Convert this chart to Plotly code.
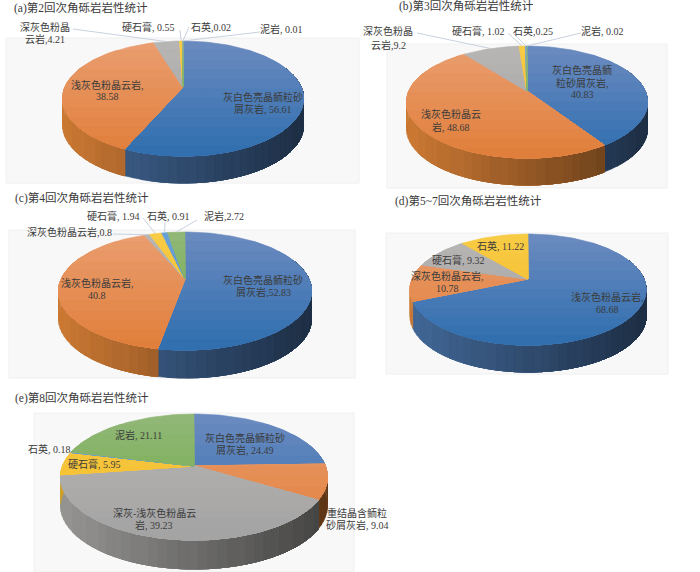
import math
import plotly.graph_objects as go

# ---------- data ----------
values_a = [56.61, 38.58, 4.21, 0.55, 0.02, 0.01]
values_b = [40.83, 48.68, 9.2, 1.02, 0.25, 0.02]
values_c = [52.83, 40.8, 0.8, 1.94, 0.91, 2.72]
values_d = [68.68, 10.78, 9.32, 11.22]
values_e = [24.49, 9.04, 39.23, 5.95, 0.18, 21.11]

names_a = ["灰白色亮晶鲕粒砂屑灰岩", "浅灰色粉晶云岩", "深灰色粉晶云岩", "硬石膏", "石英", "泥岩"]
names_b = names_a
names_c = names_a
names_d = ["浅灰色粉晶云岩", "深灰色粉晶云岩", "硬石膏", "石英"]
names_e = ["灰白色亮晶鲕粒砂屑灰岩", "重结晶含鲕粒砂屑灰岩", "深灰-浅灰色粉晶云岩", "硬石膏", "石英", "泥岩"]

titles = ["(a)第2回次角砾岩岩性统计", "(b)第3回次角砾岩岩性统计", "(c)第4回次角砾岩岩性统计",
          "(d)第5~7回次角砾岩岩性统计", "(e)第8回次角砾岩岩性统计"]

# ---------- styles ----------
TOP = {  # (upper colour, lower colour) of the slice top faces
    "blue": ((108, 139, 192), (46, 110, 174)),
    "orange": ((234, 158, 112), (224, 126, 58)),
    "gray": ((184, 182, 180), (164, 163, 163)),
    "yellow": ((248, 204, 70), (244, 184, 38)),
    "sky": ((104, 160, 214), (88, 150, 210)),
    "green": ((146, 184, 120), (108, 170, 68)),
}
SIDE = {"blue": (66, 104, 152), "orange": (205, 122, 52), "gray": (150, 149, 147),
        "yellow": (214, 164, 36), "sky": (70, 120, 170), "green": (90, 140, 60)}
order6 = ["blue", "orange", "gray", "yellow", "sky", "green"]
order4 = ["blue", "orange", "gray", "yellow"]

# layout of each panel: pie geometry, background, title, text and leader anchors (pixels)
panels = [
    dict(values=values_a, colours=order6, cx=183, ay=87, top=41, bot=156, left=62, right=303, depth=27,
         bg=(6, 38, 359, 183), title=(12, 8),
         texts=[(263, [(97, "灰白色亮晶鲕粒砂"), (109, "屑灰岩, 56.61")]),
                (107, [(85, "浅灰色粉晶云岩,"), (96, "38.58")]),
                (45, [(27, "深灰色粉晶"), (39, "云岩,4.21")]),
                (148, [(27, "硬石膏, 0.55")]),
                (211, [(27, "石英,0.02")]),
                (281, [(29, "泥岩, 0.01")])],
         leaders={2: (73, 29), 3: (180, 30), 4: (189, 27), 5: (260, 32)}),
    dict(values=values_b, colours=order6, cx=527, ay=91, top=46, bot=158, left=407, right=648, depth=27,
         bg=(387, 44, 667, 188), title=(397, 6),
         texts=[(582, [(70, "灰白色亮晶鲕"), (83, "粒砂屑灰岩,"), (94, "40.83")]),
                (451, [(114, "浅灰色粉晶云"), (127, "岩, 48.68")]),
                (388, [(31, "深灰色粉晶"), (45, "云岩,9.2")]),
                (478, [(31, "硬石膏, 1.02")]),
                (533, [(31, "石英,0.25")]),
                (602, [(31, "泥岩, 0.02")])],
         leaders={2: (417, 33), 3: (508, 33), 4: (513, 33), 5: (581, 33)}),
    dict(values=values_c, colours=order6, cx=185, ay=279, top=232, bot=350, left=59, right=312, depth=28,
         bg=(9, 230, 355, 378), title=(13, 198),
         texts=[(263, [(280, "灰白色亮晶鲕粒砂"), (292, "屑灰岩,52.83")]),
                (97, [(283, "浅灰色粉晶云岩,"), (295, "40.8")]),
                (69, [(232, "深灰色粉晶云岩,0.8")]),
                (113, [(216, "硬石膏, 1.94")]),
                (168, [(216, "石英, 0.91")]),
                (224, [(216, "泥岩,2.72")])],
         leaders={2: (113, 234), 3: (143, 218), 4: (165, 222), 5: (197, 220)}),
    dict(values=values_d, colours=order4, cx=528, ay=279, top=234, bot=345, left=410, right=646, depth=27,
         bg=(386, 233, 668, 374), title=(393, 201),
         texts=[(607, [(297, "浅灰色粉晶云岩,"), (309, "68.68")]),
                (447, [(276, "深灰色粉晶云岩,"), (288, "10.78")]),
                (458, [(260, "硬石膏, 9.32")]),
                (500, [(246, "石英, 11.22")])],
         leaders={}),
    dict(values=values_e, colours=order6, cx=194, ay=466, top=414, bot=540, left=61, right=328, depth=29,
         bg=(34, 413, 354, 572), title=(13, 398),
         texts=[(245, [(438, "灰白色亮晶鲕粒砂"), (450, "屑灰岩, 24.49")]),
                (357, [(513, "重结晶含鲕粒"), (525, "砂屑灰岩, 9.04")]),
                (154, [(513, "深灰-浅灰色粉晶云"), (525, "岩, 39.23")]),
                (94, [(464, "硬石膏, 5.95")]),
                (49, [(449, "石英, 0.18")]),
                (138, [(435, "泥岩, 21.11")])],
         leaders={}),
]
names = [names_a, names_b, names_c, names_d, names_e]

FONT = "Liberation Serif, Noto Sans CJK SC, serif"
BANDS = 12
SIDE_LEVELS = 22


def projector(p):
    """Perspective projection of a unit circle onto the tilted pie plane."""
    up, dn = p["ay"] - p["top"], p["bot"] - p["ay"]
    k = (dn - up) / (dn + up)
    b = up * (1 + k)
    rx = (p["right"] - p["left"]) / 2
    a = rx * math.sqrt(1 - k * k)

    def f(share):
        th = 2 * math.pi * share / 100
        u, v = math.sin(th), math.cos(th)
        w = 1 + k * v
        return p["cx"] + a * u / w, p["ay"] - b * v / w
    return f


def clip_below(poly, yc):
    out = []
    for i, a in enumerate(poly):
        c = poly[(i + 1) % len(poly)]
        if a[1] >= yc:
            out.append(a)
        if (a[1] >= yc) != (c[1] >= yc):
            t = (yc - a[1]) / (c[1] - a[1])
            out.append((a[0] + t * (c[0] - a[0]), yc))
    return out


def mix(c0, c1, t):
    return "rgb(%d,%d,%d)" % tuple(round(a + (b - a) * t) for a, b in zip(c0, c1))


fig = go.Figure()
shapes, annotations = [], []


def add_poly(xs, ys, colour):
    fig.add_trace(go.Scatter(x=xs, y=ys, mode="lines", fill="toself", fillcolor=colour,
                             line=dict(color=colour, width=0.6), hoverinfo="skip", showlegend=False))


for p, title, nm in zip(panels, titles, names):
    x0, y0, x1, y1 = p["bg"]
    shapes.append(dict(type="rect", x0=x0, y0=y0, x1=x1, y1=y1, layer="below",
                       fillcolor="#f8f8f8", line=dict(color="#f0f0f0", width=1)))
    annotations.append(dict(x=p["title"][0], y=p["title"][1], text=title, showarrow=False, xanchor="left",
                            yanchor="middle", font=dict(family=FONT, size=11.5, color="#3a3a3a")))
    f = projector(p)
    total = sum(p["values"])
    edges = [0]
    for v in p["values"]:
        edges.append(edges[-1] + v * 100 / total)

    # side wall, darkening to the right; each level repaints everything right of it
    width = p["right"] - p["left"]
    for s, col in enumerate(p["colours"]):
        segs = []
        a0, a1 = edges[s], edges[s + 1]
        n = max(1, int((a1 - a0) / 1.0))
        for i in range(n):
            sa, sb = a0 + (a1 - a0) * i / n, a0 + (a1 - a0) * (i + 1) / n
            if math.cos(2 * math.pi * sa / 100) > 0.35 and math.cos(2 * math.pi * sb / 100) > 0.35:
                continue
            pa, pb = f(sa), f(sb)
            t = ((pa[0] + pb[0]) / 2 - p["left"]) / width
            segs.append((min(SIDE_LEVELS - 1, max(0, int(t * SIDE_LEVELS))), pa, pb))
        if not segs:
            continue
        for lvl in sorted({q[0] for q in segs}):
            xs, ys = [], []
            for l2, pa, pb in segs:
                if l2 >= lvl:
                    xs += [pa[0], pb[0], pb[0], pa[0], pa[0], None]
                    ys += [pa[1], pb[1], pb[1] + p["depth"], pa[1] + p["depth"], pa[1], None]
            fac = 1.0 - 0.55 * (lvl + 0.5) / SIDE_LEVELS
            add_poly(xs, ys, "rgb(%d,%d,%d)" % tuple(round(c * fac) for c in SIDE[col]))

    # top face: vertical gradient, each band repaints everything below it
    span = (p["bot"] - p["top"]) / BANDS
    for s, col in enumerate(p["colours"]):
        a0, a1 = edges[s], edges[s + 1]
        pieces = max(1, math.ceil((a1 - a0) / 30))
        polys = []
        for j in range(pieces):
            sa = a0 + (a1 - a0) * j / pieces
            sb = a0 + (a1 - a0) * (j + 1) / pieces
            m = max(2, int((sb - sa) * 2))
            polys.append([(p["cx"], p["ay"])] + [f(sa + (sb - sa) * i / m) for i in range(m + 1)])
        for b in range(BANDS):
            yb = p["top"] - 1 if b == 0 else p["top"] + b * span
            xs, ys = [], []
            for poly in polys:
                pts = clip_below(poly, yb)
                if len(pts) >= 3:
                    xs += [q[0] for q in pts] + [pts[0][0], None]
                    ys += [q[1] for q in pts] + [pts[0][1], None]
            if xs:
                add_poly(xs, ys, mix(TOP[col][0], TOP[col][1], (b + 0.5) / BANDS))

    # leader lines
    for s, (lx, ly) in p["leaders"].items():
        ex, ey = f((edges[s] + edges[s + 1]) / 2)
        fig.add_trace(go.Scatter(x=[lx, ex], y=[ly, ey], mode="lines", line=dict(color="#c3ccdc", width=0.9),
                                 hoverinfo="skip", showlegend=False))

    # slice labels
    for cx, lines in p["texts"]:
        for ly, txt in lines:
            annotations.append(dict(x=cx, y=ly, text=txt, showarrow=False, xanchor="center", yanchor="middle",
                                    font=dict(family=FONT, size=10, color="#3b3b3b")))

fig.update_layout(
    width=700, height=572, margin=dict(l=0, r=0, t=0, b=0), paper_bgcolor="white", plot_bgcolor="white",
    xaxis=dict(range=[0, 700], visible=False, fixedrange=True),
    yaxis=dict(range=[572, 0], visible=False, fixedrange=True),
    shapes=shapes, annotations=annotations, showlegend=False,
)
fig.write_html("out.html", post_script="document.body.style.margin='0';document.body.style.overflow='hidden';",
               config={"displayModeBar": False})
